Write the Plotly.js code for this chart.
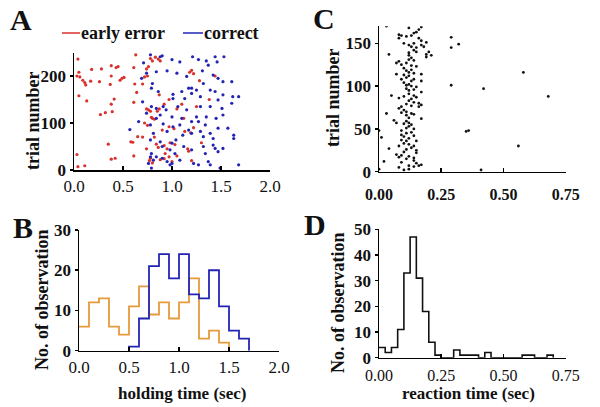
<!DOCTYPE html>
<html>
<head>
<meta charset="utf-8">
<script src="https://cdn.plot.ly/plotly-3.0.1.min.js"></script>
<style>html,body{margin:0;padding:0;background:#fff}#chart{width:600px;height:407px}</style>
</head>
<body>
<div id="chart"></div>
<script>
// ---------- Panel A: holding time vs trial number ----------
const errX = [0.04,0.05,0.06,0.03,0.09,0.11,0.12,0.05,0.13,0.18,0.17,0.28,0.26,0.38,0.43,0.45,0.38,0.37,0.47,0.49,0.51,0.41,0.38,0.39,0.27,0.32,0.61,0.63,0.61,0.64,0.62,0.35,0.38,0.42,0.03,0.04,0.11,0.60,0.61,0.65,0.58,
  0.74,0.76,0.78,0.80,0.83,0.86,0.88,0.72,0.75,0.70,0.76,0.78,0.74,0.80,0.82,0.79,0.72,0.75,0.85,0.87,0.92,0.97,1.12,1.05,0.97,1.02,1.18,1.20,1.22,1.28,1.13,1.19,1.22,1.30,1.44,0.84,0.86,0.92,0.95,0.88,0.92,0.97,1.00,0.80,0.78,0.77,0.93,1.16,1.17,1.20,1.05,0.74,0.70,0.82,0.98,1.03,0.87,0.90,1.10,1.25,1.38];
const errY = [236,208,198,200,191,186,181,158,147,214,189,215,188,222,218,220,200,182,191,195,197,151,140,124,118,122,218,245,144,165,183,55,23,25,33,7,9,59,30,71,60,
  215,220,237,232,240,236,232,198,200,183,128,125,130,110,108,112,100,95,125,130,140,150,110,130,92,88,208,212,205,190,82,79,90,58,200,55,48,52,45,22,24,28,18,15,25,20,35,45,40,20,30,45,70,70,58,54,160,85,140,135,150];

const corX = [0.71,0.78,0.88,0.90,1.00,1.08,1.21,1.27,1.35,1.37,1.44,1.53,1.46,
  0.69,0.74,0.84,0.80,0.95,1.05,1.15,1.31,1.42,1.47,1.52,1.61,1.32,
  0.79,0.86,1.01,1.10,1.17,1.20,1.25,1.39,1.44,1.52,1.62,1.68,1.01,1.13,1.29,1.20,1.47,
  0.70,0.79,0.84,0.91,0.94,1.06,1.15,1.29,1.39,1.51,1.61,0.74,0.88,1.00,1.10,1.25,1.35,1.45,1.52,0.84,
  0.66,0.78,0.91,1.01,1.08,1.20,1.27,1.34,1.47,1.57,0.57,1.17,1.29,1.39,1.63,1.63,0.81,0.95,1.20,1.32,1.42,1.11,
  0.78,0.88,1.00,1.04,1.12,1.20,1.32,1.42,1.47,1.52,0.90,0.98,1.03,1.34,1.44,0.79,0.84,0.78,
  0.76,0.81,0.95,0.98,1.08,1.22,1.27,1.39,1.49,1.68,1.37,0.79,0.90,1.00];
const corY = [228,245,241,243,235,230,241,235,232,223,241,241,230,
  195,206,209,184,211,206,199,211,202,195,188,188,184,
  174,167,161,167,174,174,170,170,167,160,156,156,152,152,156,163,149,
  145,135,131,135,128,135,128,135,135,131,142,121,117,113,110,113,113,110,117,110,
  103,96,98,92,96,103,103,96,89,89,86,85,82,78,74,67,78,82,78,71,67,74,
  64,60,57,64,50,43,50,53,39,46,50,43,35,35,46,35,28,28,
  14,21,18,11,21,14,11,11,4,11,18,4,25,14];

// ---------- Panel B: holding-time histograms (bin width 0.1 s) ----------
const errBinStart = [0.0,0.1,0.2,0.3,0.4,0.5,0.6,0.7,0.8,0.9,1.0,1.1,1.2,1.3,1.4,1.5];
const errCounts   = [6,12,13,6,4,11,16,9,12,8,12,18,3,5,2,0];
const corBinStart = [0.5,0.5,0.6,0.7,0.8,0.9,1.0,1.1,1.2,1.3,1.4,1.5,1.6,1.7];
const corCounts   = [0,1,8,21,24,18,24,14,13,20,11,5,3,0];

// ---------- Panel C: reaction time vs trial number ----------
const rtX = [0.03,0.12,0.17,0.16,0.15,0.14, 0.08,0.09,0.11,0.08,0.13,0.16,0.17,0.19,0.29,
  0.10,0.12,0.14,0.17,0.13,0.15,0.18,0.29,0.32, 0.14,0.15,0.12,0.20,0.19,0.21,0.04,0.19,0.12,
  0.13,0.12,0.14,0.08,0.07,0.09,0.11,0.13,0.15, 0.10,0.11,0.12,0.07,0.10,0.14,0.17,0.58,0.13,
  0.12,0.11,0.14,0.09,0.13,0.17,0.10,0.12, 0.11,0.13,0.15,0.11,0.12,0.29,0.42,0.14,
  0.17,0.12,0.14,0.05,0.10,0.08,0.13,0.68,0.15, 0.12,0.14,0.16,0.11,0.17,0.13,0.09,0.16,
  0.08,0.10,0.11,0.09,0.13,0.03,0.11,0.14, 0.12,0.17,0.06,0.11,0.07,0.12,0.13,0.10,
  0.12,0.11,0.14,0.09,0.00,0.35,0.36,0.13,0.11, 0.09,0.10,0.14,0.12,0.01,0.09,0.11,0.15,
  0.10,0.12,0.08,0.14,0.56,0.13,0.04,0.11,0.15, 0.10,0.15,0.07,0.09,0.12,0.14,0.08,0.11,
  0.14,0.02,0.09,0.15,0.17,0.12,0.14,0.16,0.08, 0.12,0.00,0.41,0.10];
const rtY = [170,168,169,166,163,162, 160,159,158,156,159,156,153,151,157,
  150,148,150,148,146,145,146,145,149, 142,140,139,140,137,136,137,134,136,
  133,131,130,129,127,125,127,124,123, 121,118,116,114,113,115,114,116,119,
  112,110,108,108,106,106,104,102, 101,100,99,97,95,101,97,96,
  93,91,89,89,88,86,85,88,87, 83,81,80,79,78,77,76,76,
  74,72,70,69,68,68,66,67, 63,62,60,59,57,57,55,56,
  53,51,50,48,48,47,48,46,45, 43,41,42,39,40,37,36,36,
  33,32,30,30,30,28,27,26,25, 23,22,20,19,18,16,17,15,
  13,12,11,10,8,7,6,7,5, 3,3,2,2];

// ---------- Panel D: reaction-time histogram (bin width 0.025 s) ----------
const rtBinStart = [0,0.025,0.05,0.075,0.1,0.125,0.15,0.175,0.2,0.225,0.25,0.275,0.3,0.325,0.35,0.375,0.4,0.425,0.45,0.475,0.5,0.525,0.55,0.575,0.6,0.625,0.65,0.675,0.7];
const rtCounts   = [4,2,4,11,33,47,31,18,6,1,0,0,3,1,1,1,0,2,0,0,0,0,0,1,1,0,0,1,0];

// tick labels
const tickHoldVals = [0,0.5,1,1.5,2];
const tickHoldText = ['0.0','0.5','1.0','1.5','2.0'];
const tickRtVals = [0,0.25,0.5,0.75];
const tickRtText = ['0.00','0.25','0.50','0.75'];

const SERIF = 'Liberation Serif, Times New Roman, serif';
const RED = '#d8322e', BLUE = '#2424b4', ORANGE = '#e79a3c';

const traces = [
  {type:'scatter', mode:'markers', x:errX, y:errY, xaxis:'x', yaxis:'y',
   marker:{size:3.2, color:RED}, name:'early error', showlegend:false},
  {type:'scatter', mode:'markers', x:corX, y:corY, xaxis:'x', yaxis:'y',
   marker:{size:3.2, color:BLUE}, name:'correct', showlegend:false},
  {type:'scatter', mode:'markers', x:rtX, y:rtY, xaxis:'x2', yaxis:'y2',
   marker:{size:2.8, color:'#111'}, showlegend:false},
  {type:'scatter', mode:'lines', x:errBinStart, y:errCounts, xaxis:'x3', yaxis:'y3',
   line:{shape:'hv', color:ORANGE, width:1.8}, showlegend:false},
  {type:'scatter', mode:'lines', x:corBinStart, y:corCounts, xaxis:'x3', yaxis:'y3',
   line:{shape:'hv', color:BLUE, width:1.8}, showlegend:false},
  {type:'scatter', mode:'lines', x:rtBinStart, y:rtCounts, xaxis:'x4', yaxis:'y4',
   line:{shape:'hv', color:'#111', width:1.6}, showlegend:false}
];

function xax(dom, range, vals, text, anchor, bold, size, standoff){
  return {domain:dom, range:range, anchor:anchor, showgrid:false, zeroline:false,
    showline:true, linecolor:'#000', linewidth:1.5, ticks:'inside', ticklen:4, tickwidth:1.5, tickcolor:'#000',
    ticklabelstandoff:standoff,
    tickvals:vals, ticktext:text, tickfont:{family:SERIF, size:size, color:'#111', weight: bold?'bold':'normal'}, fixedrange:true};
}
function yax(dom, range, vals, anchor){
  return {domain:dom, range:range, anchor:anchor, showgrid:false, zeroline:false,
    showline:true, linecolor:'#000', linewidth:1.5, ticks:'outside', ticklen:3, tickwidth:1.5, tickcolor:'#000',
    tickvals:vals, tickfont:{family:SERIF, size:17, color:'#111', weight:'bold'}, fixedrange:true};
}

const ann = (text, x, y, size, angle) => ({text:text, x:x, y:y, xref:'paper', yref:'paper',
  showarrow:false, textangle:angle||0, xanchor:'center', yanchor:'middle',
  font:{family:SERIF, size:size, color:'#111', weight:'bold'}});
const px = v => v/600, py = v => 1 - v/407;

const layout = {
  width:600, height:407, margin:{l:0,r:0,t:0,b:0},
  paper_bgcolor:'#fff', plot_bgcolor:'#fff', showlegend:false,
  xaxis: xax([px(74),px(270)], [0,2], tickHoldVals, tickHoldText, 'y', false, 17, 0),
  yaxis: yax([py(170),py(52.5)], [0,250], [0,100,200], 'x'),
  xaxis2: xax([px(379),px(565.7)], [0,0.75], tickRtVals, tickRtText, 'y2', true, 16, 8),
  yaxis2: yax([py(171.7),py(26.2)], [0,170], [0,50,100,150], 'x2'),
  xaxis3: xax([px(79),px(279)], [0,2], tickHoldVals, tickHoldText, 'y3', false, 17, 0),
  yaxis3: yax([py(350.7),py(230)], [0,30], [0,10,20,30], 'x3'),
  xaxis4: xax([px(379),px(565.7)], [0,0.75], tickRtVals, tickRtText, 'y4', false, 16, 3),
  yaxis4: yax([py(357.7),py(229.3)], [0,50], [0,10,20,30,40,50], 'x4'),
  shapes:[
    {type:'line', xref:'paper', yref:'paper', x0:px(62), x1:px(80), y0:py(33), y1:py(33), line:{color:RED, width:1.5}},
    {type:'line', xref:'paper', yref:'paper', x0:px(183), x1:px(203), y0:py(33), y1:py(33), line:{color:BLUE, width:1.5}}
  ],
  annotations:[
    ann('A', px(21), py(20), 30),
    ann('C', px(324), py(18), 30),
    ann('B', px(23), py(227), 30),
    ann('D', px(315), py(224), 30),
    ann('early error', px(123), py(33), 18),
    ann('correct', px(231), py(33), 18),
    ann('trial number', px(33), py(121), 18, -90),
    ann('trial number', px(333), py(98), 18, -90),
    ann('No. of observation', px(42), py(300), 18, -90),
    ann('No. of observation', px(338), py(303), 18, -90),
    ann('holding time (sec)', px(182), py(393), 17),
    ann('reaction time (sec)', px(468), py(393), 17)
  ]
};

Plotly.newPlot('chart', traces, layout, {displayModeBar:false, staticPlot:true});
</script>
</body>
</html>
